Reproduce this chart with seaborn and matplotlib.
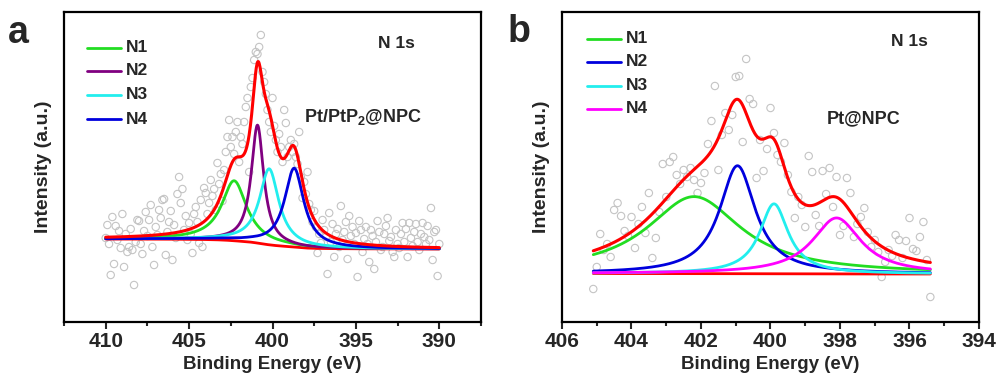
import numpy as np
import pandas as pd
import matplotlib
matplotlib.use("Agg")
import matplotlib.pyplot as plt
from matplotlib.ticker import MultipleLocator
import seaborn as sns

# ---------------- data: panel a (Pt/PtP2@NPC) ----------------
a_names = ["N1", "N2", "N3", "N4"]
a_centers = [402.3, 400.9, 400.2, 398.7]     # eV
a_heights = [60, 118, 76, 79]                # a.u.
a_fwhm = [1.8, 0.9, 1.4, 1.4]                # eV
a_bg_high, a_bg_low = 83, 73                 # Shirley background ends
a_range = (410.0, 390.0)
a_colors = ["#22dd22", "#800080", "#22eeee", "#0000dd"]

a_x_start, a_x_step = 410.0, -0.1
a_counts = [84, 97, 78, 47, 105, 58, 96, 82, 91, 74, 108, 55, 88, 70, 75, 93, 72, 37, 80, 102,
            101, 78, 68, 91, 110, 86, 102, 117, 75, 57, 95, 87, 112, 104, 122, 123, 67, 90, 100, 111,
            62, 97, 84, 128, 145, 119, 133, 92, 106, 82, 99, 88, 69, 108, 115, 100, 79, 122, 75, 134,
            129, 108, 119, 142, 126, 133, 112, 159, 138, 148, 121, 152, 170, 185, 202, 175, 185, 168, 190, 200,
            160, 185, 178, 200, 215, 224, 150, 235, 244, 262, 270, 268, 275, 287, 250, 240, 228, 212, 200, 190,
            224, 196, 182, 170, 188, 175, 160, 212, 199, 165, 175, 182, 170, 178, 165, 158, 190, 145, 124, 140,
            128, 150, 118, 112, 100, 111, 95, 69, 88, 79, 102, 92, 85, 48, 109, 80, 98, 65, 88, 93,
            75, 116, 82, 90, 100, 63, 106, 86, 95, 78, 89, 45, 101, 92, 70, 83, 95, 78, 60, 92,
            86, 53, 80, 101, 90, 72, 75, 88, 96, 104, 81, 85, 70, 65, 92, 78, 74, 88, 99, 80,
            93, 65, 99, 84, 76, 90, 98, 80, 72, 88, 99, 85, 78, 96, 82, 114, 62, 90, 92, 46,
            78]

# ---------------- data: panel b (Pt@NPC) ----------------
b_names = ["N1", "N2", "N3", "N4"]
b_centers = [402.2, 400.95, 399.9, 398.1]
b_heights = [77, 108, 70, 56]
b_fwhm = [3.3, 1.25, 1.0, 1.7]
b_bg_high, b_bg_low = 48.5, 48
b_range = (405.1, 395.4)
b_colors = ["#22dd22", "#0000dd", "#22eeee", "#ff00ff"]

b_x_start, b_x_step = 405.1, -0.1
b_counts = [33, 55, 88, 72, 78, 65, 112, 119, 106, 91, 86, 105, 74, 98, 115, 89, 129, 64, 84, 110,
            158, 125, 160, 165, 147, 138, 152, 145, 154, 142, 129, 139, 149, 178, 201, 236, 152, 187, 209, 192,
            207, 245, 246, 180, 263, 223, 218, 144, 182, 151, 173, 214, 189, 167, 160, 179, 147, 130, 104, 125,
            117, 95, 166, 150, 107, 96, 151, 128, 154, 115, 145, 87, 96, 144, 129, 85, 98, 105, 114, 90,
            75, 82, 70, 45, 60, 72, 66, 87, 82, 64, 81, 104, 73, 71, 85, 100, 62, 25]


def lorentz(x, c, h, w):
    return h / (1.0 + ((x - c) / (w / 2.0)) ** 2)


def model(centers, heights, fwhm, bg_high, bg_low, xr):
    x = np.linspace(xr[0], xr[1], 801)
    comps = [lorentz(x, c, h, w) for c, h, w in zip(centers, heights, fwhm)]
    total = np.sum(comps, axis=0)
    # Shirley-type background: integrate from the low-BE end
    xs = x[::-1]
    ts = total[::-1]
    cum = np.concatenate([[0], np.cumsum(0.5 * (ts[1:] + ts[:-1]) * np.diff(xs))])
    cum = cum[::-1]
    bg = bg_low + (bg_high - bg_low) * cum / cum[0]
    return x, comps, total, bg


sns.set_style("white")
plt.rcParams["font.family"] = ["Liberation Sans", "DejaVu Sans"]
plt.rcParams["font.weight"] = "bold"
plt.rcParams["mathtext.fontset"] = "custom"
plt.rcParams["mathtext.bf"] = "Liberation Sans:bold"
plt.rcParams["mathtext.rm"] = "Liberation Sans:bold"

fig = plt.figure(figsize=(9.96, 3.82), dpi=100)
axA = fig.add_axes([64 / 996, 60 / 382, 417 / 996, 310 / 382])
axB = fig.add_axes([562 / 996, 60 / 382, 417 / 996, 310 / 382])

LW = 2.0


def draw(ax, names, centers, heights, fwhm, bgh, bgl, xr, colors, x0, dx, counts,
         xlim, major, minor, title_pos, sample, sample_pos, leg_x, leg_rows):
    xp = x0 + dx * np.arange(len(counts))
    pts = pd.DataFrame({"BE": xp, "I": counts})
    sns.scatterplot(data=pts, x="BE", y="I", ax=ax, marker="o", s=28,
                    facecolor="none", edgecolor="#c4c4c4", linewidth=0.8, zorder=1)
    x, comps, total, bg = model(centers, heights, fwhm, bgh, bgl, xr)
    sns.lineplot(x=x, y=bg, ax=ax, color="#ff0000", lw=LW, sort=False, zorder=2)
    for name, comp, col in zip(names, comps, colors):
        sns.lineplot(x=x, y=comp + bg, ax=ax, color=col, lw=LW, sort=False, zorder=3)
    sns.lineplot(x=x, y=total + bg, ax=ax, color="#ff0000", lw=LW + 0.2, sort=False, zorder=4)
    ax.set_xlim(*xlim)
    ax.set_ylim(0, 310)
    ax.xaxis.set_major_locator(MultipleLocator(major))
    ax.xaxis.set_minor_locator(MultipleLocator(minor))
    ax.set_yticks([])
    ax.tick_params(axis="x", which="major", direction="out", length=5, width=1.5,
                   labelsize=15, pad=2, bottom=True)
    ax.tick_params(axis="x", which="minor", direction="out", length=3, width=1.5, bottom=True)
    for lab in ax.get_xticklabels():
        lab.set_fontweight("bold")
    for sp in ax.spines.values():
        sp.set_linewidth(1.6)
        sp.set_color("black")
    ax.set_xlabel("Binding Energy (eV)", fontsize=13.5, fontweight="bold", labelpad=4)
    ax.set_ylabel("Intensity (a.u.)", fontsize=14, fontweight="bold", labelpad=9)
    ax.text(*title_pos, "N 1s", transform=ax.transAxes, ha="center", va="center",
            fontsize=12.5, fontweight="bold")
    ax.text(*sample_pos, sample, transform=ax.transAxes, ha="center", va="center",
            fontsize=13, fontweight="bold")
    for name, col, yr in zip(names, colors, leg_rows):
        ax.plot([leg_x[0], leg_x[1]], [yr, yr], transform=ax.transAxes, color=col, lw=LW)
        ax.text(leg_x[2], yr, name, transform=ax.transAxes, ha="left", va="center",
                fontsize=12.5, fontweight="bold")


def fx(px, left):
    return (px - left) / 417


def fy(py):
    return (322 - py) / 310


draw(axA, a_names, a_centers, a_heights, a_fwhm, a_bg_high, a_bg_low, a_range, a_colors,
     a_x_start, a_x_step, a_counts, (412.5, 387.5), 5, 2.5,
     (fx(396, 64), fy(44)), r"Pt/PtP$_{\mathbf{2}}$@NPC", (fx(363, 64), fy(117)),
     (fx(87, 64), fx(121, 64), fx(126, 64)), [fy(48), fy(71), fy(95), fy(119)])
draw(axB, b_names, b_centers, b_heights, b_fwhm, b_bg_high, b_bg_low, b_range, b_colors,
     b_x_start, b_x_step, b_counts, (406, 394), 2, 1,
     (fx(909, 562), fy(42)), "Pt@NPC", (fx(864, 562), fy(119)),
     (fx(587, 562), fx(621, 562), fx(626, 562)), [fy(39), fy(62), fy(86), fy(109)])

fig.text(18 / 996, 1 - 33 / 382, "a", fontsize=27, fontweight="bold", ha="center", va="center")
fig.text(519 / 996, 1 - 32 / 382, "b", fontsize=27, fontweight="bold", ha="center", va="center")

fig.savefig("out.png", dpi=100)
